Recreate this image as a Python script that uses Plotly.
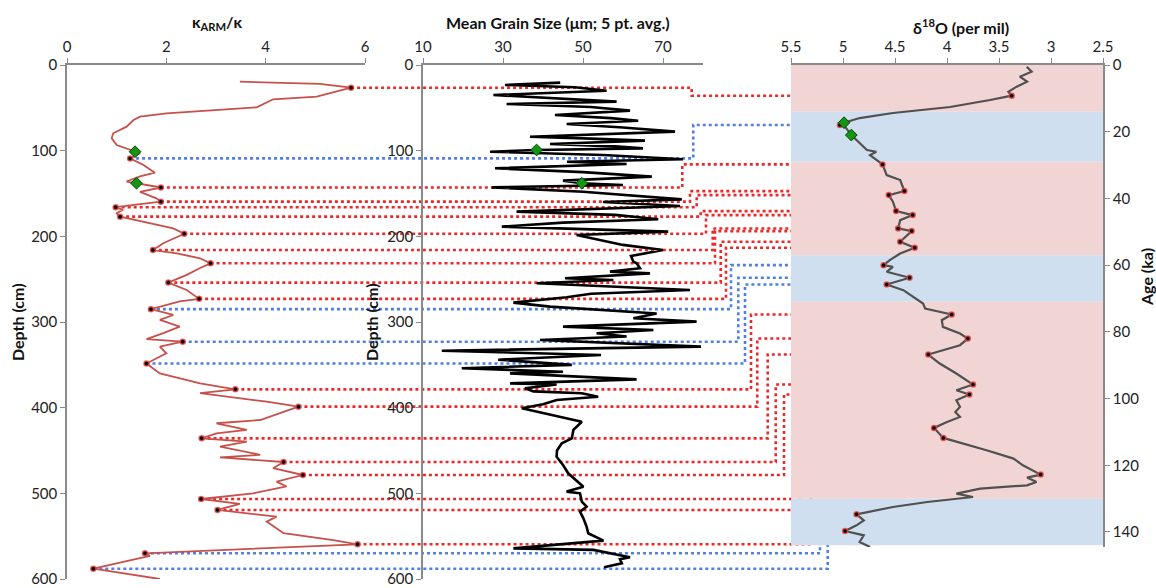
import plotly.graph_objects as go

# ---------------- data ----------------
karm_depth = [19.5, 22, 26.5, 37, 40, 49.4, 56.4, 60.3, 64.2, 72, 79.7, 85.6, 93.4, 101.2, 103, 109,
              116.7, 125.7, 130, 136, 138, 143, 148, 155.6, 159.5, 166, 169, 173, 177, 183, 190.7, 197,
              208, 216, 219.8, 225.6, 231.5, 237, 245, 254, 262.6, 273, 276, 285, 291.8, 297.6, 305.4,
              313, 320, 323, 328.8, 336.5, 348.5, 360, 371.6, 378.6, 383, 393, 398.8, 414.4, 418.2, 426,
              430, 435.8, 439.7, 445.5, 455, 458, 463.4, 470.7, 478.6, 486.3, 492, 500, 506.6, 512.4,
              519.4, 527.2, 533, 546.6, 554.5, 559.5, 570, 573, 588, 600]
karm_value = [3.48, 5.09, 5.72, 5.03, 4.15, 3.82, 2.0, 1.47, 1.34, 1.2, 0.93, 0.90, 1.0, 1.37, 1.47, 1.27,
              1.54, 1.77, 1.47, 1.2, 1.4, 1.89, 1.47, 1.8, 1.89, 0.98, 1.13, 1.0, 1.07, 1.54, 2.14, 2.36,
              1.94, 1.73, 2.21, 2.68, 2.89, 2.68, 2.41, 2.04, 2.41, 2.66, 2.27, 1.69, 2.14, 1.87, 2.27,
              1.94, 1.6, 2.33, 1.87, 2.0, 1.6, 1.87, 2.68, 3.39, 2.68, 4.02, 4.66, 3.89, 3.01, 3.62,
              3.01, 2.71, 3.62, 3.08, 3.89, 3.08, 4.36, 4.15, 4.75, 4.22, 4.42, 3.75, 2.70, 3.48,
              3.03, 4.22, 4.02, 4.36, 5.36, 5.85, 1.57, 1.67, 0.53, 1.87]

grain_depth = [20.6, 23.3, 26, 30, 35, 38, 42.8, 45.5, 49, 53.3, 58.4, 62, 65, 68.9, 73, 77.8, 83.7, 86,
               88.3, 92.2, 95, 97.3, 99.2, 101.2, 105, 110, 113, 115.6, 120.6, 125, 130.3, 135, 138, 140,
               142.8, 148, 156.8, 160, 164.6, 171.2, 175, 180, 184, 188.7, 194.5, 198.4, 210, 216, 223,
               229.6, 231.5, 237.3, 241.2, 243.2, 249, 251, 254.8, 262.6, 267, 271.2, 277.4, 282, 290,
               295.7, 299.6, 305.4, 309.3, 313.2, 317, 321, 326.8, 328.8, 333.5, 338.5, 344, 350, 354,
               358, 360, 367, 371.6, 373, 377.4, 381, 383.2, 387.2, 391, 396, 400.7, 408, 416.4, 426,
               435.8, 441.6, 450, 457.2, 467, 476.6, 486.4, 492.2, 498, 500, 509.7, 515.6, 521.4, 529.2,
               538.9, 546.6, 555.2, 564.2, 566, 574.6, 577, 581.7, 586.3]
grain_size = [44.3, 30.5, 48, 55.9, 27.6, 40, 58.4, 30.9, 52, 61.75, 43, 57, 63.8, 45.9, 60, 73, 36.75, 52,
              65.5, 41.75, 58, 65, 38.4, 26.75, 55, 75, 46, 60.9, 28, 50, 67.2, 45, 49.7, 60,
              27.2, 50, 74.7, 55, 74.25, 33.4, 58, 68.8, 45, 29.7, 71.3, 48.4, 60, 70, 62,
              62.6, 63.4, 64.25, 56.75, 66.75, 45.5, 57.6, 38.4, 76.75, 52, 45.9, 32.6, 41.75, 68.4,
              62.6, 78.4, 45, 67.6, 53.4, 60.9, 39.25, 71.75, 79.5, 14.7, 54.5, 28.8, 47.2, 19.7,
              45, 31.75, 63.4, 31.75, 43.4, 35.5, 37.6, 49.7, 53.8, 43.4, 40, 34.7, 42, 49.7, 47.6,
              47.2, 44.7, 43.5, 43.4, 45, 46.3, 48.8, 50.1, 45.9, 49.25, 49.7, 50.9, 49.25, 50.1,
              50.9, 51.3, 55.1, 32.6, 52.6, 61.75, 59.25, 59.7, 55.25]

d18o_age = [0.5, 2, 3.5, 5, 6.5, 8, 9.2, 10.5, 12.6, 14.4, 15.9, 17.3, 18, 18.5, 21, 23.5, 25.5, 26, 27,
            29.8, 33, 34.5, 37.8, 39, 41, 43.8, 45, 46.5, 49, 49.8, 53, 54.8, 56.5, 58.5, 60, 60.5, 62,
            63.8, 65.8, 67.5, 69.5, 71.5, 73, 74.8, 76.5, 78.5, 80.5, 82, 84, 86.8, 89.5, 92.5, 95.8,
            97.5, 98.8, 100.5, 102.5, 104, 105.5, 107, 108.8, 111.8, 115.5, 118, 120, 122.8, 123.7, 125,
            126, 127, 128.5, 129.5, 131, 132.5, 134.7, 136.5, 138, 139.7, 141, 143, 144.5]
d18o_value = [3.234, 3.186, 3.30, 3.23, 3.33, 3.41, 3.378, 3.587, 3.97, 4.52, 4.84, 4.99, 5.03, 4.98, 4.92,
              4.84, 4.77, 4.68, 4.74, 4.62, 4.58, 4.45, 4.41, 4.56, 4.52, 4.49, 4.33, 4.45, 4.47, 4.34,
              4.45, 4.31, 4.45, 4.55, 4.61, 4.52, 4.58, 4.36, 4.58, 4.42, 4.32, 4.23, 4.21, 3.955, 4.05,
              4.04, 3.875, 3.80, 3.875, 4.18, 4.07, 3.91, 3.75, 3.91, 3.785, 3.91, 3.875, 3.92, 3.875,
              4.0, 4.125, 4.035, 3.62, 3.36, 3.27, 3.10, 3.23, 3.14, 3.23, 3.68, 3.91, 3.75, 4.19, 4.52,
              4.87, 4.80, 4.87, 4.98, 4.80, 4.84, 4.74]

# tie points (kARM depth/value  <->  d18O age/value)
tie_depth = [26.5, 109, 143, 159.5, 166, 177, 197, 216, 231.5, 254, 273, 285, 323, 348.5, 378.6, 398.8,
             435.8, 463.4, 478.6, 506.6, 519.4, 559.5, 570, 588]
tie_karm = [5.72, 1.27, 1.89, 1.89, 0.98, 1.07, 2.36, 1.73, 2.89, 2.04, 2.66, 1.69, 2.33, 1.6, 3.39, 4.66,
            2.71, 4.36, 4.75, 2.70, 3.03, 5.85, 1.57, 0.53]
tie_age = [9.2, 18, 29.8, 37.8, 39, 43.8, 45, 49, 49.8, 53, 54.8, 60, 63.8, 65.8, 74.8, 82, 86.8, 95.8,
           98.8, 108.8, 111.8, 122.8, 134.7, 139.7]
tie_d18o = [3.378, 5.03, 4.62, 4.41, 4.56, 4.49, 4.33, 4.47, 4.34, 4.45, 4.31, 4.61, 4.36, 4.58, 3.955,
            3.80, 4.18, 3.75, 3.785, 4.125, 4.035, 3.10, 4.87, 4.98]
tie_kind = ['warm', 'cold', 'warm', 'warm', 'warm', 'warm', 'warm', 'warm', 'warm', 'warm', 'warm',
            'cold', 'cold', 'cold', 'warm', 'warm', 'warm', 'warm', 'warm', 'warm', 'warm', 'warm',
            'cold', 'cold']

# green diamond markers
green_karm_depth = [101.2, 138]
green_karm_value = [1.37, 1.40]
green_grain_depth = [99.2, 138]
green_grain_value = [38.4, 49.7]
green_d18o_age = [17.3, 21]
green_d18o_value = [4.99, 4.92]

# marine isotope stage band boundaries (ka) and type
mis_edges = [0, 14, 29, 57, 71, 130, 144]
mis_kind = ['warm', 'cold', 'warm', 'cold', 'warm', 'cold']

# axis titles
title_karm = '<b>κ<sub>ARM</sub>/κ</b>'
title_grain = '<b>Mean Grain Size (μm; 5 pt. avg.)</b>'
title_d18o = '<b>δ<sup>18</sup>O (per mil)</b>'
title_depth = '<b>Depth (cm)</b>'
title_age = '<b>Age (ka)</b>'

# ---------------- layout geometry (figure pixels) ----------------
W, H = 1156, 588
XD_K = [67 / W, 365 / W]
XD_G = [423 / W, 703 / W]
XD_O = [791 / W, 1103 / W]
YD_D = [1 - 579 / H, 1 - 65 / H]
YD_A = [1 - 547 / H, 1 - 65 / H]
K_RANGE = [0, 6]
G_RANGE = [10, 80]
O_RANGE = [5.5, 2.5]
D_MAX = 600
A_MAX = 144.5
# x position (pixels) of the vertical step of each tie line
elbow_px = [691.7, 693.3, 682.3, 690, 696.7, 700.7, 706, 712.7, 715, 720.7, 726, 731, 738.3, 745, 751,
            757.3, 767.7, 775.7, 784, 792.7, 800, 811, 820, 827.7]

RED = 'rgb(238,40,40)'
BLUE = 'rgb(80,128,228)'
PINK_BG = 'rgb(241,212,212)'
BLUE_BG = 'rgb(207,223,239)'
AXC = '#8a8a8a'
FONT = 'Lato'


def karm_to_paper(k):
    return XD_K[0] + (k - K_RANGE[0]) / (K_RANGE[1] - K_RANGE[0]) * (XD_K[1] - XD_K[0])


def d18o_to_paper(v):
    return XD_O[0] + (v - O_RANGE[0]) / (O_RANGE[1] - O_RANGE[0]) * (XD_O[1] - XD_O[0])


def age_to_depth_units(a):
    py = YD_A[1] - a / A_MAX * (YD_A[1] - YD_A[0])
    return (YD_D[1] - py) / (YD_D[1] - YD_D[0]) * D_MAX


fig = go.Figure()

# connector lines (subplot x/y spanning the full width, depth units)
for kind, col in (('warm', RED), ('cold', BLUE)):
    xs, ys = [], []
    for i in range(len(tie_depth)):
        if tie_kind[i] != kind:
            continue
        ex = elbow_px[i] / W
        ad = age_to_depth_units(tie_age[i])
        xs += [karm_to_paper(tie_karm[i]), ex, ex, d18o_to_paper(tie_d18o[i]), None]
        ys += [tie_depth[i], tie_depth[i], ad, ad, None]
    fig.add_trace(go.Scatter(x=xs, y=ys, mode='lines', xaxis='x', yaxis='y',
                             line=dict(color=col, width=2.6, dash='dot'), hoverinfo='skip'))

# kARM panel
fig.add_trace(go.Scatter(x=karm_value, y=karm_depth, mode='lines', xaxis='x2', yaxis='y2',
                         line=dict(color='rgb(200,80,75)', width=1.8)))
fig.add_trace(go.Scatter(x=tie_karm, y=tie_depth, mode='markers', xaxis='x2', yaxis='y2',
                         marker=dict(size=5, color='black', line=dict(color='rgba(235,70,70,0.8)', width=1.5))))
fig.add_trace(go.Scatter(x=green_karm_value, y=green_karm_depth, mode='markers', xaxis='x2', yaxis='y2',
                         marker=dict(symbol='diamond', size=9, color='rgb(20,150,20)',
                                     line=dict(color='rgb(0,70,0)', width=1))))

# grain size panel
fig.add_trace(go.Scatter(x=grain_size, y=grain_depth, mode='lines', xaxis='x3', yaxis='y3',
                         line=dict(color='black', width=2.6)))
fig.add_trace(go.Scatter(x=green_grain_value, y=green_grain_depth, mode='markers', xaxis='x3', yaxis='y3',
                         marker=dict(symbol='diamond', size=9, color='rgb(20,150,20)',
                                     line=dict(color='rgb(0,70,0)', width=1))))

# d18O panel
fig.add_trace(go.Scatter(x=d18o_value, y=d18o_age, mode='lines', xaxis='x4', yaxis='y4',
                         line=dict(color='rgb(80,80,80)', width=2.2)))
fig.add_trace(go.Scatter(x=tie_d18o, y=tie_age, mode='markers', xaxis='x4', yaxis='y4',
                         marker=dict(size=5, color='black', line=dict(color='rgba(235,70,70,0.8)', width=1.5))))
fig.add_trace(go.Scatter(x=green_d18o_value, y=green_d18o_age, mode='markers', xaxis='x4', yaxis='y4',
                         marker=dict(symbol='diamond', size=9, color='rgb(20,150,20)',
                                     line=dict(color='rgb(0,70,0)', width=1))))

# MIS bands
shapes = []
for i, kind in enumerate(mis_kind):
    shapes.append(dict(type='rect', xref='x4', yref='y4', x0=O_RANGE[0], x1=O_RANGE[1],
                       y0=mis_edges[i], y1=mis_edges[i + 1], fillcolor=PINK_BG if kind == 'warm' else BLUE_BG,
                       line=dict(width=0), layer='below'))

tickfont = dict(family=FONT, size=15, color='#222')
titlefont = dict(family=FONT, size=16, color='#111')
common = dict(showgrid=False, zeroline=False, showline=True, linecolor=AXC, linewidth=1.5,
              ticks='outside', tickcolor=AXC, ticklen=5, tickwidth=1.2, tickfont=tickfont,
              automargin=False)


def title_ann(text, px, py, angle=0):
    return dict(text=text, x=px / W, y=1 - py / H, xref='paper', yref='paper', showarrow=False,
                xanchor='center', yanchor='middle', textangle=angle, font=titlefont)


annotations = [
    title_ann(title_karm, 217, 22),
    title_ann(title_grain, 558, 22),
    title_ann(title_d18o, 961, 26),
    title_ann(title_depth, 17, 322, -90),
    title_ann(title_depth, 371, 322, -90),
    title_ann(title_age, 1146, 277, -90),
]

fig.update_layout(
    width=W, height=H, margin=dict(l=0, r=0, t=0, b=0),
    paper_bgcolor='white', plot_bgcolor='rgba(0,0,0,0)', showlegend=False, hovermode=False,
    shapes=shapes, annotations=annotations,
    xaxis=dict(domain=[0, 1], range=[0, 1], visible=False, fixedrange=True, automargin=False),
    yaxis=dict(domain=YD_D, range=[D_MAX, 0], visible=False, fixedrange=True, automargin=False),
    xaxis2=dict(domain=XD_K, range=K_RANGE, side='top', anchor='y2', tickvals=[0, 2, 4, 6], **common),
    yaxis2=dict(domain=YD_D, range=[D_MAX, 0], anchor='x2', side='left',
                tickvals=list(range(0, 601, 100)), **common),
    xaxis3=dict(domain=XD_G, range=G_RANGE, side='top', anchor='y3', tickvals=[10, 30, 50, 70], **common),
    yaxis3=dict(domain=YD_D, range=[D_MAX, 0], anchor='x3', side='left',
                tickvals=list(range(0, 601, 100)), **common),
    xaxis4=dict(domain=XD_O, range=O_RANGE, side='top', anchor='y4',
                tickvals=[5.5, 5, 4.5, 4, 3.5, 3, 2.5], ticktext=['5.5', '5', '4.5', '4', '3.5', '3', '2.5'],
                **common),
    yaxis4=dict(domain=YD_A, range=[A_MAX, 0], anchor='x4', side='right',
                tickvals=list(range(0, 141, 20)), **common),
)

fig.write_html('out.html')
